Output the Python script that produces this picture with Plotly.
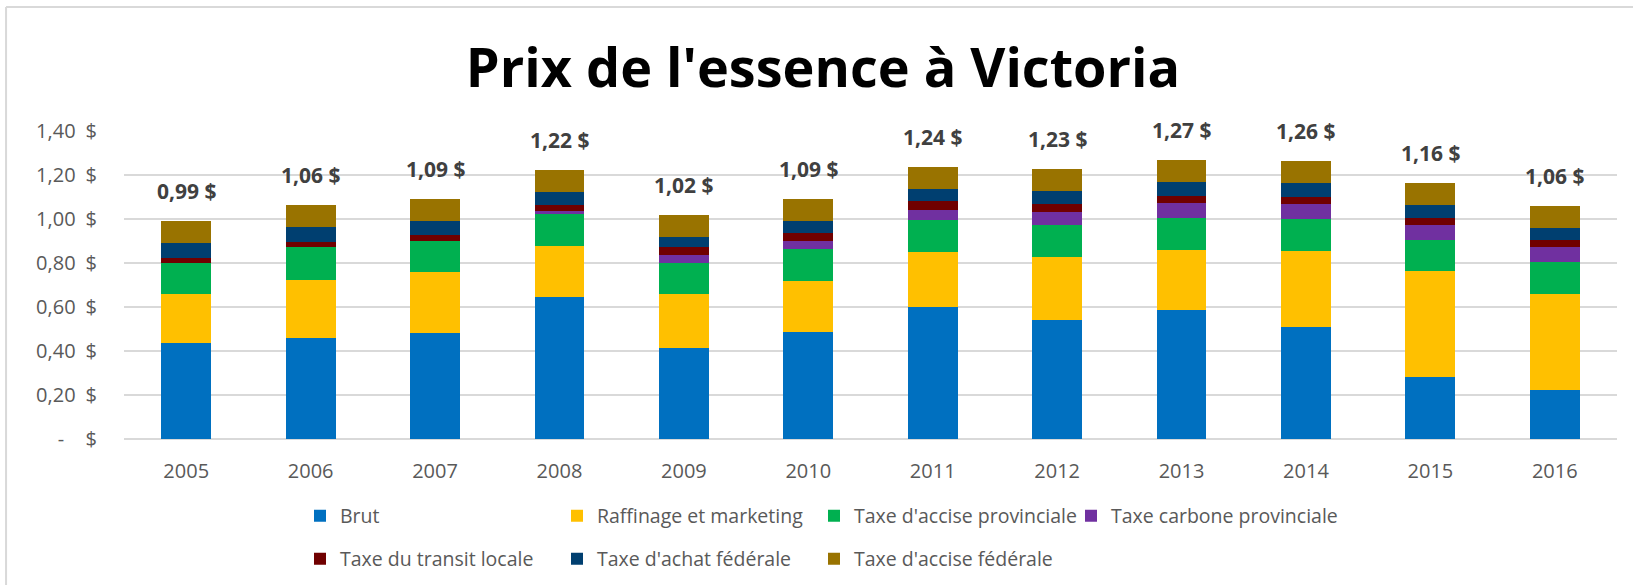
import plotly.graph_objects as go

# Gasoline price breakdown in Victoria, dollars per litre
years = ["2005", "2006", "2007", "2008", "2009", "2010",
         "2011", "2012", "2013", "2014", "2015", "2016"]

brut = [0.435, 0.459, 0.483, 0.644, 0.415, 0.488, 0.601, 0.539, 0.586, 0.511, 0.283, 0.221]
raffinage = [0.224, 0.265, 0.275, 0.232, 0.244, 0.232, 0.248, 0.290, 0.272, 0.342, 0.479, 0.438]
accise_prov = [0.141, 0.149, 0.142, 0.148, 0.141, 0.142, 0.148, 0.143, 0.147, 0.147, 0.142, 0.145]
carbone_prov = [0.0, 0.0, 0.0, 0.011, 0.038, 0.038, 0.045, 0.062, 0.067, 0.067, 0.067, 0.067]
transit = [0.024, 0.022, 0.027, 0.030, 0.035, 0.036, 0.040, 0.033, 0.033, 0.033, 0.034, 0.033]
achat_fed = [0.067, 0.067, 0.064, 0.058, 0.045, 0.055, 0.054, 0.060, 0.062, 0.062, 0.057, 0.053]
accise_fed = [0.100, 0.100, 0.100, 0.100, 0.100, 0.100, 0.100, 0.100, 0.100, 0.100, 0.100, 0.100]

y_ticks = [0, 0.2, 0.4, 0.6, 0.8, 1.0, 1.2, 1.4]

series = [
    ("Brut", brut, "#0070C0", "legend"),
    ("Raffinage et marketing", raffinage, "#FFC000", "legend"),
    ("Taxe d'accise provinciale", accise_prov, "#00B050", "legend"),
    ("Taxe carbone provinciale", carbone_prov, "#7030A0", "legend"),
    ("Taxe du transit locale", transit, "#700000", "legend2"),
    ("Taxe d'achat fédérale", achat_fed, "#003F70", "legend2"),
    ("Taxe d'accise fédérale", accise_fed, "#997300", "legend2"),
]

FONT = "Open Sans, Calibri, sans-serif"

fig = go.Figure()
for name, values, color, leg in series:
    fig.add_trace(go.Bar(
        x=years, y=values, name=name, legend=leg,
        legendwidth=212 if name != "Taxe carbone provinciale" else 280,
        marker=dict(color=color, line=dict(width=0)),
    ))

totals = [sum(v) for v in zip(brut, raffinage, accise_prov, carbone_prov,
                              transit, achat_fed, accise_fed)]


def money(v):
    return f"{v:.2f}".replace(".", ",") + " $"


# total price above each stacked bar (x given as category index)
for i, tot in enumerate(totals):
    fig.add_annotation(
        x=i, y=tot, text=money(tot), showarrow=False,
        yanchor="bottom", yshift=14,
        font=dict(family=FONT, size=21, color="#404040", weight="bold"),
    )

tick_text = ["-\u2007\u2002$"] + [
    f"{v:.2f}".replace(".", ",") + "\u2002$" for v in y_ticks[1:]
]

# light frame around the chart area
fig.add_shape(type="line", xref="paper", yref="paper",
              x0=-0.0790, x1=1.02, y0=1.4026, y1=1.4026,
              line=dict(color="#D9D9D9", width=2))
fig.add_shape(type="line", xref="paper", yref="paper",
              x0=-0.0790, x1=-0.0790, y0=1.4026, y1=-0.55,
              line=dict(color="#D9D9D9", width=2))

legend_common = dict(
    orientation="h", xanchor="left", yanchor="middle",
    entrywidth=212, entrywidthmode="pixels", traceorder="normal",
    font=dict(family=FONT, size=19.5, color="#595959"),
    bgcolor="rgba(0,0,0,0)",
)

fig.update_layout(
    width=1633, height=585,
    margin=dict(l=124, r=16, t=131, b=146, autoexpand=False),
    paper_bgcolor="white", plot_bgcolor="white",
    barmode="stack", bargap=0.6,
    font=dict(family=FONT, color="#595959"),
    title=dict(
        text="Prix de l'essence à Victoria",
        x=823 / 1633, xanchor="center", xref="container",
        y=1 - 68 / 585, yanchor="middle", yref="container",
        font=dict(family=FONT, size=54, color="#000000", weight="bold"),
    ),
    legend=dict(x=(300 - 124) / 1493, y=(439 - 516) / 308, **legend_common),
    legend2=dict(x=(300 - 124) / 1493, y=(439 - 559) / 308, **legend_common),
    xaxis=dict(
        type="category", showgrid=False, showline=False, ticks="",
        ticklabelstandoff=18,
        tickfont=dict(family=FONT, size=20, color="#595959"),
    ),
    yaxis=dict(
        range=[0, 1.4], tickvals=y_ticks, ticktext=tick_text,
        showgrid=True, gridcolor="#D9D9D9", gridwidth=1.5,
        zeroline=True, zerolinecolor="#D9D9D9", zerolinewidth=1.5,
        showline=False, ticks="", ticklabelstandoff=26,
        tickfont=dict(family=FONT, size=20, color="#595959"),
    ),
)

fig.write_html("out.html")
